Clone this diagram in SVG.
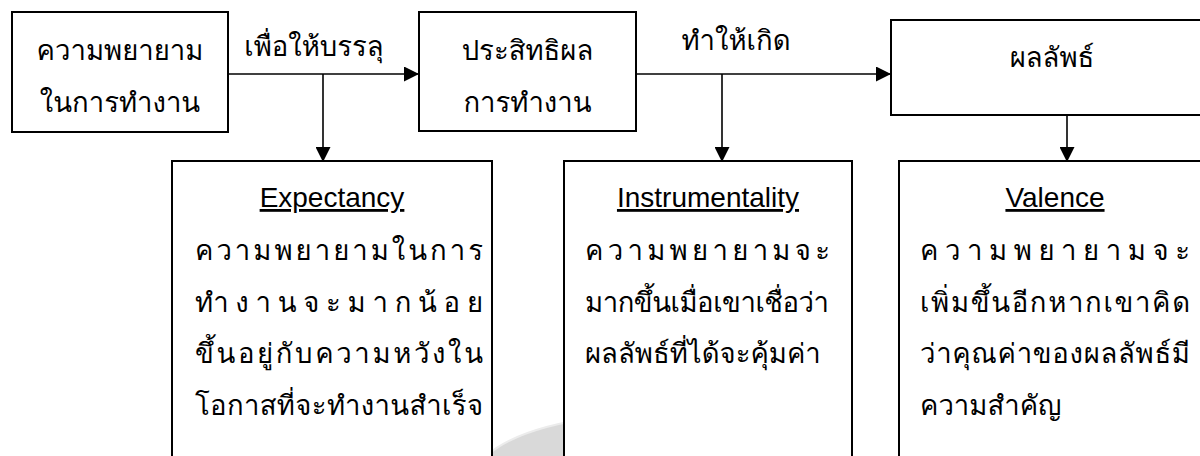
<svg xmlns="http://www.w3.org/2000/svg" width="1200" height="456" viewBox="0 0 1200 456">
<style>
.box{fill:#fff;stroke:#000;stroke-width:2}
.th{font-family:"Waree","Loma","Garuda","Umpush","Tlwg Typo","Sarabun","Noto Sans Thai Looped","Noto Sans Thai","Liberation Sans",sans-serif;font-size:27.5px;font-weight:300;fill:#000}
.mid{text-anchor:middle}
.en{font-family:"Liberation Sans",Arial,sans-serif;font-size:28px;fill:#000;text-anchor:middle;text-decoration:underline}
.con{stroke:#000;stroke-width:1.6;fill:none}
</style>
<defs>
<marker id="ah" viewBox="0 0 10 10" refX="10" refY="5" markerWidth="15" markerHeight="15" markerUnits="userSpaceOnUse" orient="auto">
<path d="M0,0 L10,5 L0,10 Z" fill="#000"/>
</marker>
</defs>
<rect width="1200" height="456" fill="#fff"/>
<path d="M484 456 Q518 426 600 416 L600 456 Z" fill="#ececec"/>
<path d="M488 456 Q520 428 600 418 L600 456 Z" fill="#d9d9d9"/>
<g id="connectors">
<line class="con" x1="228" y1="74" x2="419" y2="74" marker-end="url(#ah)"/>
<line class="con" x1="323" y1="74" x2="323" y2="162" marker-end="url(#ah)"/>
<line class="con" x1="636" y1="74" x2="891" y2="74" marker-end="url(#ah)"/>
<line class="con" x1="722" y1="74" x2="722" y2="162" marker-end="url(#ah)"/>
<line class="con" x1="1067" y1="115" x2="1067" y2="162" marker-end="url(#ah)"/>
<text class="th mid" x="314" y="56">เพื่อให้บรรลุ</text>
<text class="th mid" x="736" y="50">ทำให้เกิด</text>
</g>
<g id="effort">
<rect class="box" x="12" y="12" width="216" height="120"/>
<text class="th mid" x="120" y="60">ความพยายาม</text>
<text class="th mid" x="120" y="112">ในการทำงาน</text>
</g>
<g id="performance">
<rect class="box" x="419" y="12" width="217" height="119"/>
<text class="th mid" x="527.5" y="60">ประสิทธิผล</text>
<text class="th mid" x="527.5" y="112">การทำงาน</text>
</g>
<g id="outcome">
<rect class="box" x="891" y="20" width="330" height="95"/>
<text class="th mid" x="1052" y="67">ผลลัพธ์</text>
</g>
<g id="expectancy">
<rect class="box" x="172" y="161" width="320" height="310"/>
<text class="en" x="332" y="207">Expectancy</text>
<text class="th" x="195" y="260" textLength="288" lengthAdjust="spacing">ความพยายามในการ</text>
<text class="th" x="195" y="312" textLength="288" lengthAdjust="spacing">ทำงานจะมากน้อย</text>
<text class="th" x="195" y="363" textLength="288" lengthAdjust="spacing">ขึ้นอยู่กับความหวังใน</text>
<text class="th" x="195" y="415" textLength="288" lengthAdjust="spacing">โอกาสที่จะทำงานสำเร็จ</text>
</g>
<g id="instrumentality">
<rect class="box" x="564" y="161" width="288" height="310"/>
<text class="en" x="708" y="207">Instrumentality</text>
<text class="th" x="585" y="260" textLength="245" lengthAdjust="spacing">ความพยายามจะ</text>
<text class="th" x="585" y="312" textLength="244" lengthAdjust="spacing">มากขึ้นเมื่อเขาเชื่อว่า</text>
<text class="th" x="585" y="363">ผลลัพธ์ที่ได้จะคุ้มค่า</text>
</g>
<g id="valence">
<rect class="box" x="899" y="161" width="320" height="310"/>
<text class="en" x="1055" y="207">Valence</text>
<text class="th" x="920" y="260" textLength="270" lengthAdjust="spacing">ความพยายามจะ</text>
<text class="th" x="920" y="312" textLength="270" lengthAdjust="spacing">เพิ่มขึ้นอีกหากเขาคิด</text>
<text class="th" x="920" y="363" textLength="270" lengthAdjust="spacing">ว่าคุณค่าของผลลัพธ์มี</text>
<text class="th" x="920" y="415">ความสำคัญ</text>
</g>
</svg>
